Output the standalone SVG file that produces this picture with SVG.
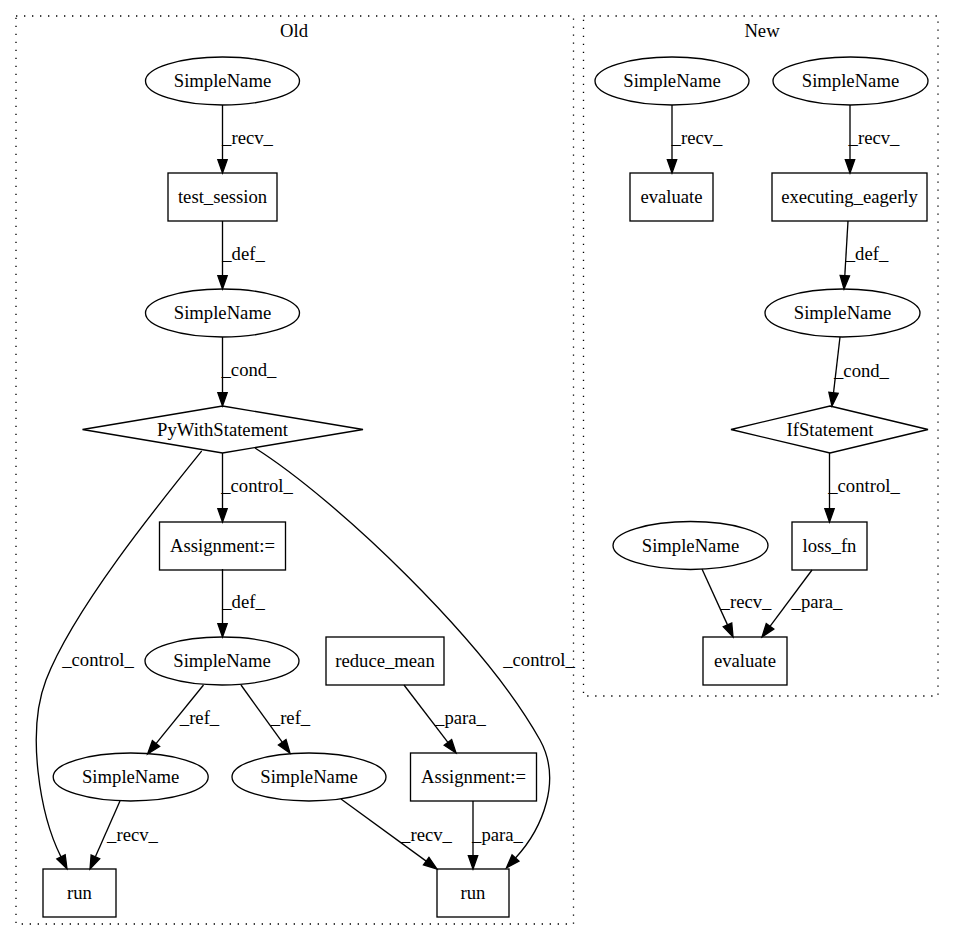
<svg xmlns="http://www.w3.org/2000/svg" width="955" height="944" viewBox="0 0 955 944">
<defs>
<marker id="arr" markerUnits="userSpaceOnUse" markerWidth="16" markerHeight="12" refX="0" refY="4.67" orient="auto" overflow="visible">
<path d="M0,0 L13.33,4.67 L0,9.33 z" fill="#000" stroke="#000" stroke-width="1.33"/>
</marker>
<style>
text{font-family:"Liberation Serif","Times New Roman",serif;font-size:18.67px;fill:#000}
.n{text-anchor:middle}
.l{text-anchor:middle}
.shape{fill:none;stroke:#000;stroke-width:1.33}
.cl{fill:none;stroke:#000;stroke-width:1.33;stroke-dasharray:1.33,6.67}
.e{fill:none;stroke:#000;stroke-width:1.33;marker-end:url(#arr)}
</style>
</defs>
<rect width="955" height="944" fill="#fff"/>
<g id="cluster_old">
<rect class="cl" x="16" y="16" width="557.5" height="908"/>
<text class="n" x="294" y="37">Old</text>
</g>
<g id="cluster_new">
<rect class="cl" x="583.5" y="16" width="354.5" height="680"/>
<text class="n" x="762" y="37">New</text>
</g>
<g id="edges">
<path class="e" d="M222.5,105 L222.5,159.7"/>
<path class="e" d="M222.5,221 L222.5,275.7"/>
<path class="e" d="M222.5,337 L222.5,392.7"/>
<path class="e" d="M222.5,453 L222.5,508.7"/>
<path class="e" d="M222.5,569 L222.5,623.7"/>
<path class="e" d="M203.5,685 L156,743.6"/>
<path class="e" d="M241,685 L282.2,742.2"/>
<path class="e" d="M404,685 L447.9,742.4"/>
<path class="e" d="M120,801 L95.4,856.8"/>
<path class="e" d="M341,799 L426.2,861.1"/>
<path class="e" d="M473,801 L473,855.7"/>
<path class="e" d="M201.7,451 C158,505 73,610 46,680 C26,732 40,815 61,856.9"/>
<path class="e" d="M255,448 C337,500 484,640 540,740 C562,780 543,828 515.5,858"/>
<path class="e" d="M672,105 L672,159.7"/>
<path class="e" d="M850,105 L850,159.7"/>
<path class="e" d="M848,221 L844.8,275.7"/>
<path class="e" d="M840,337 L833.5,392.8"/>
<path class="e" d="M829.5,453 L829.5,508.7"/>
<path class="e" d="M702,569 L727.5,624.9"/>
<path class="e" d="M812,570 L770,626.3"/>
<text class="l" x="247.5" y="144">_recv_</text>
<text class="l" x="243.5" y="260">_def_</text>
<text class="l" x="249" y="376">_cond_</text>
<text class="l" x="257" y="492">_control_</text>
<text class="l" x="243.5" y="608">_def_</text>
<text class="l" x="98" y="666">_control_</text>
<text class="l" x="539" y="666">_control_</text>
<text class="l" x="199.5" y="724">_ref_</text>
<text class="l" x="290.5" y="724">_ref_</text>
<text class="l" x="460.5" y="724">_para_</text>
<text class="l" x="132.5" y="841">_recv_</text>
<text class="l" x="426.5" y="841">_recv_</text>
<text class="l" x="497.5" y="841">_para_</text>
<text class="l" x="697" y="144">_recv_</text>
<text class="l" x="874" y="144">_recv_</text>
<text class="l" x="867" y="260">_def_</text>
<text class="l" x="861.5" y="377">_cond_</text>
<text class="l" x="864" y="492">_control_</text>
<text class="l" x="746" y="608">_recv_</text>
<text class="l" x="817" y="608">_para_</text>
</g>
<g id="old_simplename_1"><ellipse class="shape" cx="222.5" cy="81" rx="77" ry="24"/><text class="n" x="222.5" y="87">SimpleName</text></g>
<g id="old_test_session"><rect class="shape" x="168" y="173" width="109" height="48"/><text class="n" x="222.5" y="203">test_session</text></g>
<g id="old_simplename_2"><ellipse class="shape" cx="222.5" cy="313" rx="77" ry="24"/><text class="n" x="222.5" y="319">SimpleName</text></g>
<g id="old_pywith"><polygon class="shape" points="222.5,406 363,429.5 222.5,453 82.5,429.5"/><text class="n" x="222.5" y="435.5">PyWithStatement</text></g>
<g id="old_assignment_1"><rect class="shape" x="159.5" y="522" width="126" height="48"/><text class="n" x="222.5" y="552">Assignment:=</text></g>
<g id="old_simplename_3"><ellipse class="shape" cx="222" cy="661" rx="77" ry="24"/><text class="n" x="222" y="667">SimpleName</text></g>
<g id="old_reduce_mean"><rect class="shape" x="326" y="637" width="118" height="48"/><text class="n" x="385" y="667">reduce_mean</text></g>
<g id="old_simplename_4"><ellipse class="shape" cx="130.7" cy="777" rx="77.5" ry="24"/><text class="n" x="130.7" y="783">SimpleName</text></g>
<g id="old_simplename_5"><ellipse class="shape" cx="309" cy="777" rx="77" ry="24"/><text class="n" x="309" y="783">SimpleName</text></g>
<g id="old_assignment_2"><rect class="shape" x="410.5" y="753" width="126" height="48"/><text class="n" x="473.5" y="783">Assignment:=</text></g>
<g id="old_run_1"><rect class="shape" x="43" y="869" width="73" height="48"/><text class="n" x="79.5" y="899">run</text></g>
<g id="old_run_2"><rect class="shape" x="437" y="869" width="72" height="48"/><text class="n" x="473" y="899">run</text></g>
<g id="new_simplename_1"><ellipse class="shape" cx="672" cy="81" rx="77" ry="24"/><text class="n" x="672" y="87">SimpleName</text></g>
<g id="new_simplename_2"><ellipse class="shape" cx="850.5" cy="81" rx="77.5" ry="24"/><text class="n" x="850.5" y="87">SimpleName</text></g>
<g id="new_evaluate_1"><rect class="shape" x="630" y="173" width="83" height="48"/><text class="n" x="671.5" y="203">evaluate</text></g>
<g id="new_executing_eagerly"><rect class="shape" x="772" y="173" width="155" height="48"/><text class="n" x="849.5" y="203">executing_eagerly</text></g>
<g id="new_simplename_3"><ellipse class="shape" cx="842.5" cy="313" rx="77.5" ry="24"/><text class="n" x="842.5" y="319">SimpleName</text></g>
<g id="new_ifstatement"><polygon class="shape" points="830,406 928,429.5 830,453 731,429.5"/><text class="n" x="830" y="435.5">IfStatement</text></g>
<g id="new_simplename_4"><ellipse class="shape" cx="690.5" cy="545.5" rx="77.5" ry="24"/><text class="n" x="690.5" y="551.5">SimpleName</text></g>
<g id="new_loss_fn"><rect class="shape" x="792" y="522" width="75" height="48"/><text class="n" x="829.5" y="552">loss_fn</text></g>
<g id="new_evaluate_2"><rect class="shape" x="703" y="637" width="84" height="48"/><text class="n" x="745" y="667">evaluate</text></g>
</svg>
